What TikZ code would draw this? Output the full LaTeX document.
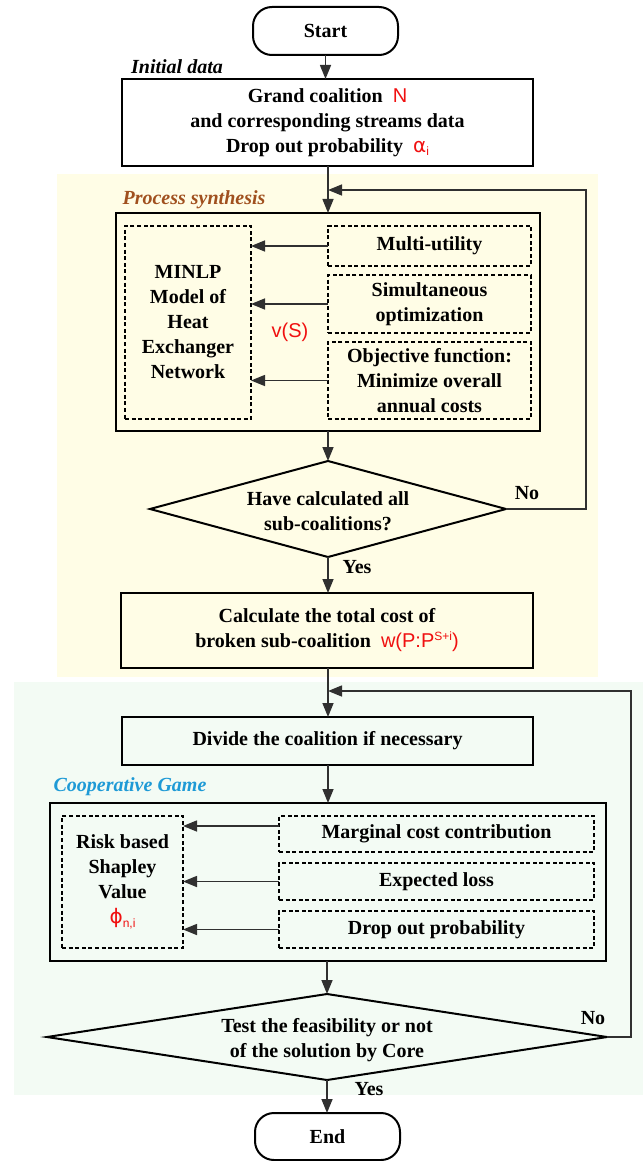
\documentclass[tikz,border=0pt]{standalone}
\usepackage{fontspec}
\setmainfont{Liberation Serif}
\newfontfamily\arialf{Liberation Sans}
\newfontfamily\dejavuf{DejaVu Sans}
\usetikzlibrary{arrows.meta,shapes.geometric}

\definecolor{synthbg}{HTML}{FFFDE6}
\definecolor{gamebg}{HTML}{F3FBF4}
\definecolor{synthlbl}{HTML}{A0501E}
\definecolor{gamelbl}{HTML}{1E9AD6}
\definecolor{symred}{HTML}{F01010}
\definecolor{wire}{HTML}{303030}

% red symbols in a sans face, with small lowered / raised indices
\newcommand{\rsym}[1]{{\color{symred}\arialf\mdseries #1}}
\newcommand{\lowidx}[1]{\raisebox{-3.5pt}{\fontsize{12}{12}\selectfont #1}}
\newcommand{\highidx}[1]{\raisebox{7pt}{\fontsize{12}{12}\selectfont #1}}

\tikzset{
  x=1pt, y=-1pt,
  every node/.style={font=\fontsize{20}{25}\selectfont\bfseries, inner sep=0pt, outer sep=0pt},
  mainbox/.style={draw, line width=2.2pt, align=center},
  subbox/.style={draw, line width=2.2pt, dash pattern=on 4pt off 2.6pt, align=center},
  terminal/.style={draw, line width=2pt, rounded corners=19pt, align=center},
  decision/.style={draw, diamond, line width=2pt},
  flow/.style={draw=wire, line width=1.5pt, -{Triangle[length=14pt,width=11pt]}},
  grouplbl/.style={font=\fontsize{20}{25}\selectfont\bfseries\itshape},
}

\begin{document}
\begin{tikzpicture}
\useasboundingbox (0,0) rectangle (643,1161);

% shaded stages
\fill[synthbg] (57,174) rectangle (598,677);
\fill[gamebg] (14,682) rectangle (643,1095);

% start and initial data
\node[terminal, minimum width=145pt, minimum height=48pt] (start) at (325.5,31) {Start};
\node[grouplbl] (initlbl) at (177,67) {Initial data};
\node[mainbox, minimum width=411pt, minimum height=87pt] (init) at (327.5,122.5)
  {Grand coalition \ \rsym{N}\\and corresponding streams data\\Drop out probability \ \rsym{{\dejavuf α}\lowidx{i}}};

% process synthesis stage
\node[grouplbl, text=synthlbl] (synthlbl) at (194,200) {Process synthesis};
\node[mainbox, minimum width=424pt, minimum height=218pt] (proc) at (328,322) {};
\node[subbox, minimum width=126pt, minimum height=193pt] (minlp) at (188,322.5)
  {MINLP\\Model of\\Heat\\Exchanger\\Network};
\node[subbox, minimum width=203pt, minimum height=40pt] (multi) at (429.5,246) {Multi-utility};
\node[subbox, minimum width=203pt, minimum height=58pt] (simul) at (429.5,304) {Simultaneous\\optimization};
\node[subbox, minimum width=203pt, minimum height=77pt] (objf) at (429.5,380.5)
  {Objective function:\\Minimize overall\\annual costs};
\node (vs) at (290,332) {\rsym{v(S)}};

\node[decision, minimum width=356pt, minimum height=96pt] (d1) at (328,509) {};
\node[align=center] (d1txt) at (328,511) {Have calculated all\\sub-coalitions?};
\node (no1) at (527,493) {No};
\node (yes1) at (357,567) {Yes};

\node[mainbox, minimum width=412pt, minimum height=75pt] (calc) at (327,630.5)
  {Calculate the total cost of\\broken sub-coalition \ \rsym{w(P:P\highidx{S+i})}};

% cooperative game stage
\node[mainbox, minimum width=411pt, minimum height=48pt] (divide) at (327.5,741)
  {Divide the coalition if necessary};
\node[grouplbl, text=gamelbl] (gamelbl) at (130,787) {Cooperative Game};
\node[mainbox, minimum width=556pt, minimum height=158pt] (coop) at (328,882) {};
\node[subbox, minimum width=121pt, minimum height=132pt] (shap) at (122.5,882)
  {Risk based\\Shapley\\Value\\\rsym{{\dejavuf ϕ}\lowidx{n,i}}};
\node[subbox, minimum width=315pt, minimum height=36pt] (marg) at (436.5,834) {Marginal cost contribution};
\node[subbox, minimum width=315pt, minimum height=37pt] (eloss) at (436.5,881.5) {Expected loss};
\node[subbox, minimum width=315pt, minimum height=37pt] (dprob) at (436.5,929.5) {Drop out probability};

\node[decision, minimum width=560pt, minimum height=86pt] (d2) at (327,1037) {};
\node[align=center] (d2txt) at (327,1040) {Test the feasibility or not\\of the solution by Core};
\node (no2) at (593,1018) {No};
\node (yes2) at (369,1089) {Yes};

\node[terminal, minimum width=145pt, minimum height=47pt] (stop) at (327.5,1136.5) {End};

% loop entry points on the main line, and the upper feed into the Shapley box
\coordinate (join1) at (328,190);
\coordinate (join2) at (328,691);
\coordinate (margout) at ([yshift=8pt]marg.west);

% main flow
\draw[flow] (start) -- (start.south |- init.north);
\draw[flow] (init.south -| join1) -- (join1 |- proc.north);
\draw[flow] (multi.west) -- (minlp.east |- multi.west);
\draw[flow] (simul.west) -- (minlp.east |- simul.west);
\draw[flow] (objf.west) -- (minlp.east |- objf.west);
\draw[flow] (proc.south -| d1.north) -- (d1.north);
\draw[flow] (d1.south) -- (d1.south |- calc.north);
\draw[flow] (d1.east) -- ++(80,0) |- (join1);
\draw[flow] (calc.south -| join2) -- (join2 |- divide.north);
\draw[flow] (divide.south -| coop.north) -- (coop.north);
\draw[flow] (margout) -- (shap.east |- margout);
\draw[flow] (eloss.west) -- (shap.east |- eloss.west);
\draw[flow] (dprob.west) -- (shap.east |- dprob.west);
\draw[flow] (coop.south -| d2.north) -- (d2.north);
\draw[flow] (d2.east) -- ++(24,0) |- (join2);
\draw[flow] (d2.south) -- (d2.south |- stop.north);
\end{tikzpicture}
\end{document}
